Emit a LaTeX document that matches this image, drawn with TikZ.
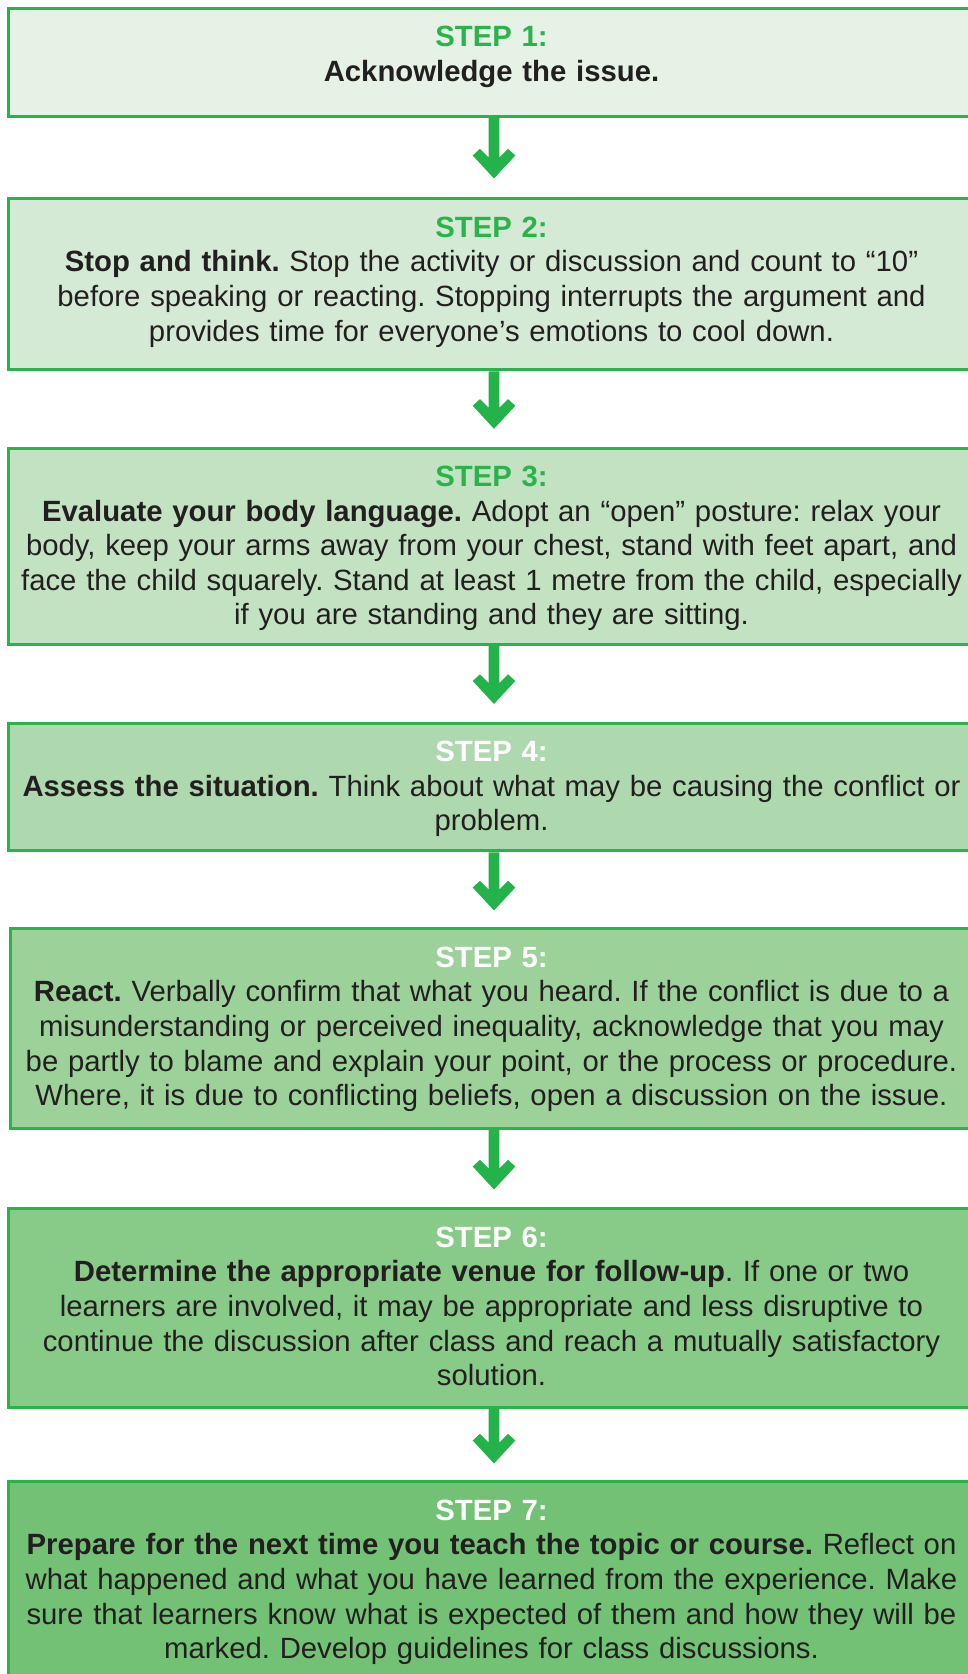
\documentclass[tikz,border=0pt]{standalone}
\usepackage{fontspec}
\setmainfont{Liberation Sans}
\frenchspacing
\definecolor{bord}{HTML}{2BB34B}
\definecolor{agreen}{HTML}{24B24B}
\definecolor{lgreen}{HTML}{2BB34B}
\definecolor{txt}{HTML}{231F20}
\definecolor{fa}{HTML}{E6F2E6}
\definecolor{fb}{HTML}{D4EAD4}
\definecolor{fc}{HTML}{C2E2C1}
\definecolor{fd}{HTML}{AED8AE}
\definecolor{fe}{HTML}{9CD19A}
\definecolor{ff}{HTML}{88CA88}
\definecolor{fg}{HTML}{72C175}
\newcommand{\stlab}[2]{\rule{0pt}{24pt}\textcolor{#1}{\textbf{STEP #2:}}}
\tikzset{
  stepbox/.style={rectangle, draw=bord, line width=3pt, minimum width=972pt, inner sep=0pt},
  steptext/.style={anchor=north, text width=1000pt, align=center, inner sep=0pt,
    font=\fontsize{29.3pt}{34.6pt}\selectfont\frenchspacing, text=txt},
  conn/.style={fill=agreen, draw=none, to path={
    ([xshift=-5.35pt]\tikztostart) -- ([xshift=-5.35pt,yshift=21pt]\tikztotarget)
    -- ([xshift=-14pt,yshift=29.7pt]\tikztotarget) -- ([xshift=-21.3pt,yshift=23pt]\tikztotarget)
    -- (\tikztotarget) -- ([xshift=21.3pt,yshift=23pt]\tikztotarget)
    -- ([xshift=14pt,yshift=29.7pt]\tikztotarget) -- ([xshift=5.35pt,yshift=21pt]\tikztotarget)
    -- ([xshift=5.35pt]\tikztostart) -- cycle}}
}
\begin{document}
\begin{tikzpicture}[x=1pt,y=1pt]
\useasboundingbox (0,0) rectangle (968,1674);
\clip (0,0) rectangle (968,1674);
\fill[white] (0,0) rectangle (968,1674);

\node[stepbox, fill=fa, minimum height=108.2pt] (b1) at (494,1611.6) {};
\node[stepbox, fill=fb, minimum height=171pt] (b2) at (494,1389.5) {};
\node[stepbox, fill=fc, minimum height=196pt] (b3) at (494,1127.7) {};
\node[stepbox, fill=fd, minimum height=127.5pt] (b4) at (494,886.75) {};
\node[stepbox, fill=fe, minimum height=199.3pt, minimum width=967pt] (b5) at (494,645.35) {};
\node[stepbox, fill=ff, minimum height=198.7pt] (b6) at (494,365.65) {};
\node[stepbox, fill=fg, minimum height=222pt] (b7) at (494,81) {};

\node[steptext] (t1) at ([xshift=-2.5pt,yshift=-15.6pt]b1.north)
 {\stlab{lgreen}{1}\\ \textbf{Acknowledge the issue.}};
\node[steptext] (t2) at ([xshift=-2.5pt,yshift=-15.6pt]b2.north)
 {\stlab{lgreen}{2}\\
  \textbf{Stop and think.} Stop the activity or discussion and count to “10”\\
  before speaking or reacting. Stopping interrupts the argument and\\
  provides time for everyone’s emotions to cool down.};
\node[steptext] (t3) at ([xshift=-2.5pt,yshift=-15.6pt]b3.north)
 {\stlab{lgreen}{3}\\
  \textbf{Evaluate your body language.} Adopt an “open” posture: relax your\\
  body, keep your arms away from your chest, stand with feet apart, and\\
  face the child squarely. Stand at least 1 metre from the child, especially\\
  if you are standing and they are sitting.};
\node[steptext] (t4) at ([xshift=-2.5pt,yshift=-15.6pt]b4.north)
 {\stlab{white}{4}\\
  \textbf{Assess the situation.} Think about what may be causing the conflict or\\
  problem.};
\node[steptext] (t5) at ([xshift=-2.5pt,yshift=-15.6pt]b5.north)
 {\stlab{white}{5}\\
  \textbf{React.} Verbally confirm that what you heard. If the conflict is due to a\\
  misunderstanding or perceived inequality, acknowledge that you may\\
  be partly to blame and explain your point, or the process or procedure.\\
  Where, it is due to conflicting beliefs, open a discussion on the issue.};
\node[steptext] (t6) at ([xshift=-2.5pt,yshift=-15.6pt]b6.north)
 {\stlab{white}{6}\\
  \textbf{Determine the appropriate venue for follow-up}. If one or two\\
  learners are involved, it may be appropriate and less disruptive to\\
  continue the discussion after class and reach a mutually satisfactory\\
  solution.};
\node[steptext] (t7) at ([xshift=-2.5pt,yshift=-15.6pt]b7.north)
 {\stlab{white}{7}\\
  \textbf{Prepare for the next time you teach the topic or course.} Reflect on\\
  what happened and what you have learned from the experience. Make\\
  sure that learners know what is expected of them and how they will be\\
  marked. Develop guidelines for class discussions.};

\coordinate (p2) at ([yshift=19pt]b2.north);
\coordinate (p3) at ([yshift=18pt]b3.north);
\coordinate (p4) at ([yshift=18pt]b4.north);
\coordinate (p5) at ([yshift=17pt]b5.north);
\coordinate (p6) at ([yshift=18pt]b6.north);
\coordinate (p7) at ([yshift=17pt]b7.north);
\path[conn] (b1.south) to (p2);
\path[conn] (b2.south) to (p3);
\path[conn] (b3.south) to (p4);
\path[conn] (b4.south) to (p5);
\path[conn] (b5.south) to (p6);
\path[conn] (b6.south) to (p7);
\end{tikzpicture}
\end{document}
